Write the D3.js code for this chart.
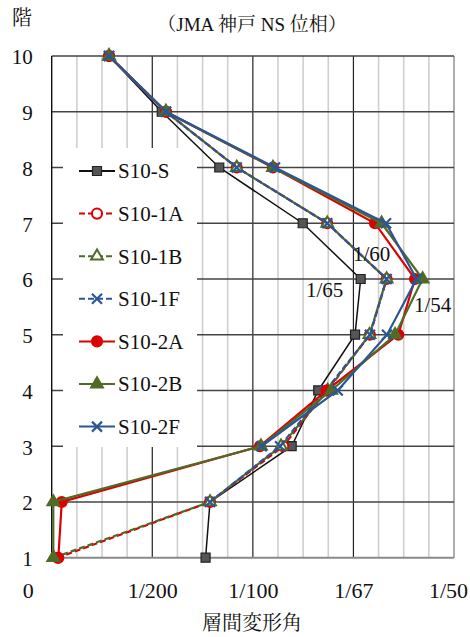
<!DOCTYPE html>
<html lang="en">

<head>
    <meta charset="UTF-8">
    <title>層間変形角</title>
    <script src="https://d3js.org/d3.v7.min.js"></script>
    <style>
        body { margin: 0; background: #fff; }
    </style>
</head>

<body>
    <svg id="chart" width="470" height="637"></svg>

    <script>
        // Data (floor 1 .. 10), story drift angle
        var floors = [1, 2, 3, 4, 5, 6, 7, 8, 9, 10];
        var seriesNames = ["S10-S", "S10-1A", "S10-1B", "S10-1F", "S10-2A", "S10-2B", "S10-2F"];
        var driftS = [0.00765, 0.00787, 0.01193, 0.01325, 0.01508, 0.01536, 0.01248, 0.00833, 0.00547, 0.00285];
        var drift1A = [0.00030, 0.00787, 0.01151, 0.01367, 0.01582, 0.01665, 0.01370, 0.00920, 0.00568, 0.00285];
        var drift1B = [0.00010, 0.00787, 0.01140, 0.01372, 0.01580, 0.01665, 0.01370, 0.00920, 0.00568, 0.00285];
        var drift1F = [null, 0.00787, 0.01135, 0.01362, 0.01582, 0.01665, 0.01370, 0.00920, 0.00568, 0.00285];
        var drift2A = [0.00033, 0.00050, 0.01035, 0.01367, 0.01723, 0.01806, 0.01607, 0.01100, 0.00568, 0.00285];
        var drift2B = [0.00008, 0.00008, 0.01040, 0.01390, 0.01707, 0.01844, 0.01640, 0.01100, 0.00568, 0.00285];
        var drift2F = [null, null, 0.01044, 0.01422, 0.01667, 0.01814, 0.01662, 0.01110, 0.00568, 0.00285];
        var xTicks = [0, 0.005, 0.01, 0.015, 0.02];
        var xTickLabels = ["0", "1/200", "1/100", "1/67", "1/50"];
        var noteLabels = ["1/65", "1/60", "1/54"];

        var allDrifts = [driftS, drift1A, drift1B, drift1F, drift2A, drift2B, drift2F];

        var FONT = "'Liberation Serif', 'Noto Serif CJK JP', serif";

        // styles per series
        var red = "#dd0000", green = "#4f6b26", blue = "#2c5595";
        var styles = [
            { color: "#111", dash: null, marker: "square", fill: "#555" },
            { color: red, dash: "6,3", marker: "circle", fill: "#fff" },
            { color: green, dash: "6,3", marker: "triangle", fill: "#fff" },
            { color: blue, dash: "6,3", marker: "cross", fill: "none" },
            { color: red, dash: null, marker: "circle", fill: red },
            { color: green, dash: null, marker: "triangle", fill: green },
            { color: blue, dash: null, marker: "cross", fill: "none" }
        ];

        var svg = d3.select("#chart");

        var x = d3.scaleLinear().domain([0, 0.02]).range([51.7, 454]);
        var y = d3.scaleLinear().domain([1, 10]).range([557.7, 56]);

        // grid
        var grid = svg.append("g");
        grid.selectAll(".minor")
            .data(d3.range(0, 17).map(function (i) { return i * 0.00125; }).filter(function (v, i) { return i % 4 !== 0; }))
            .join("line")
            .attr("x1", function (d) { return x(d); })
            .attr("x2", function (d) { return x(d); })
            .attr("y1", y(10)).attr("y2", y(1))
            .attr("stroke", "#cfcfcf").attr("stroke-width", 1.6);
        grid.selectAll(".major")
            .data(xTicks.slice(1))
            .join("line")
            .attr("x1", function (d) { return x(d); })
            .attr("x2", function (d) { return x(d); })
            .attr("y1", y(10)).attr("y2", y(1))
            .attr("stroke", function (d) { return d === 0.02 ? "#777" : "#222"; })
            .attr("stroke-width", 1.2);
        grid.selectAll(".hz")
            .data(floors)
            .join("line")
            .attr("x1", x(0)).attr("x2", x(0.02))
            .attr("y1", function (d) { return y(d); })
            .attr("y2", function (d) { return y(d); })
            .attr("stroke", function (d) { return d === 1 ? "#8a8a8a" : "#444"; })
            .attr("stroke-width", function (d) { return d === 1 ? 2 : 1.4; });
        grid.append("line")
            .attr("x1", x(0)).attr("x2", x(0))
            .attr("y1", y(10)).attr("y2", y(1))
            .attr("stroke", "#111").attr("stroke-width", 1.4);

        // axes
        var xAxis = svg.append("g")
            .attr("transform", "translate(0,579)")
            .call(d3.axisBottom(x).tickValues(xTicks).tickSize(0)
                .tickFormat(function (d, i) { return xTickLabels[i]; }));
        xAxis.attr("font-family", FONT).attr("font-size", 22);
        xAxis.select(".domain").remove();
        xAxis.selectAll("text")
            .attr("fill", "#111")
            .attr("dx", function (d, i) { return i === 0 ? -24 : (i === 4 ? -6 : 0); });

        var yAxis = svg.append("g")
            .attr("transform", "translate(" + x(0) + ",0)")
            .call(d3.axisLeft(y).tickValues(floors).tickSize(0).tickPadding(19).tickFormat(d3.format("d")));
        yAxis.attr("font-family", FONT).attr("font-size", 21);
        yAxis.select(".domain").remove();
        yAxis.selectAll("text").attr("fill", "#111").attr("dy", "0.38em");

        function addText(px, py, size, str) {
            return svg.append("text").attr("x", px).attr("y", py).attr("text-anchor", "middle")
                .attr("font-family", FONT).attr("font-size", size).attr("fill", "#111").text(str);
        }

        // titles
        addText(22, 25, 20, "階");
        addText(252, 31, 19, "（JMA 神戸 NS 位相）");
        addText(252, 630, 20, "層間変形角");

        function markerPath(type) {
            if (type === "cross") return "M-5,-5L5,5M-5,5L5,-5";
            if (type === "square") return d3.symbol(d3.symbolSquare, 81)();
            if (type === "circle") return d3.symbol(d3.symbolCircle, 80)();
            return d3.symbol(d3.symbolTriangle, 60)();
        }

        function drawMarker(g, st, px, py) {
            g.append("path")
                .attr("d", markerPath(st.marker))
                .attr("transform", "translate(" + px + "," + py + ")")
                .attr("fill", st.fill)
                .attr("stroke", st.marker === "square" ? "#222" : st.color)
                .attr("stroke-width", st.marker === "cross" ? 2.2 : (st.marker === "square" ? 1.2 : 2));
        }

        // series
        var line = d3.line()
            .defined(function (d) { return d.v !== null; })
            .x(function (d) { return x(d.v); })
            .y(function (d) { return y(d.f); });

        allDrifts.forEach(function (vals, i) {
            var st = styles[i];
            var pts = floors.map(function (f, j) { return { f: f, v: vals[j] }; });
            var g = svg.append("g");
            g.append("path")
                .datum(pts)
                .attr("d", line)
                .attr("fill", "none")
                .attr("stroke", st.color)
                .attr("stroke-width", i === 0 ? 1.5 : 2.2)
                .attr("stroke-dasharray", st.dash);
            pts.filter(function (d) { return d.v !== null; }).forEach(function (d) {
                drawMarker(g, st, x(d.v), y(d.f));
            });
        });

        // annotations at floor 6
        var notes = [
            { x: x(driftS[5]) - 36, y: y(6) + 18 },
            { x: x(drift1A[5]) - 15, y: y(6) - 18 },
            { x: x(drift2B[5]) + 10, y: y(6) + 33 }
        ];
        notes.forEach(function (n, i) {
            addText(n.x, n.y, 21, noteLabels[i]);
        });

        // legend
        var legend = svg.append("g");
        legend.append("rect")
            .attr("x", 63).attr("y", 148).attr("width", 134).attr("height", 299)
            .attr("fill", "#fff");
        seriesNames.forEach(function (name, i) {
            var st = styles[i];
            var ly = 171 + i * 42.6;
            legend.append("line")
                .attr("x1", 79).attr("x2", 115).attr("y1", ly).attr("y2", ly)
                .attr("stroke", st.color).attr("stroke-width", 2)
                .attr("stroke-dasharray", st.dash);
            drawMarker(legend, st, 97, ly);
            legend.append("text")
                .attr("x", 118).attr("y", ly).attr("dy", "0.35em")
                .attr("font-family", FONT).attr("font-size", 21).attr("fill", "#111")
                .text(name);
        });
    </script>
</body>

</html>
